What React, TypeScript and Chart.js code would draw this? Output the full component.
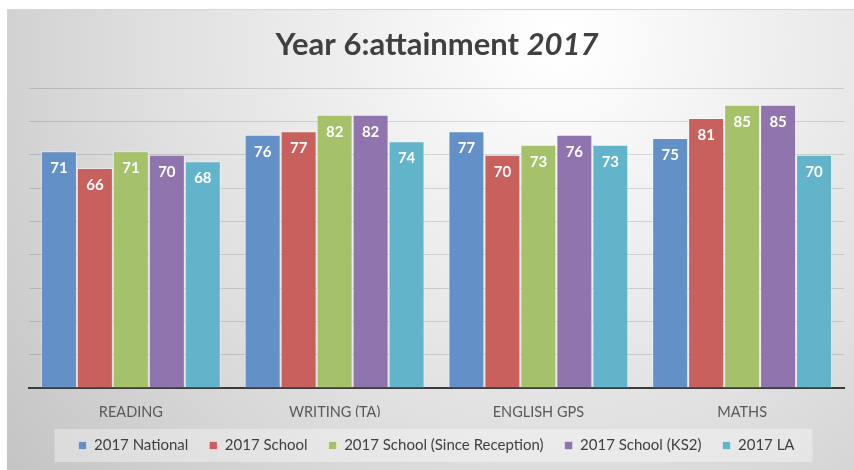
import React, { useEffect, useRef } from "react";
import { Chart, registerables } from "chart.js";

Chart.register(...registerables);

const categories = ["READING", "WRITING (TA)", "ENGLISH GPS", "MATHS"];
const seriesNames = [
  "2017 National",
  "2017 School",
  "2017 School (Since Reception)",
  "2017 School (KS2)",
  "2017 LA",
];
const national = [71, 76, 77, 75];
const school = [66, 77, 70, 81];
const sinceReception = [71, 82, 73, 85];
const ks2 = [70, 82, 76, 85];
const la = [68, 74, 73, 70];
const seriesColors = ["#6390c7", "#c8605d", "#a5c26a", "#8f74ad", "#62b4cb"];
const titleMain = "Year 6:attainment ";
const titleYear = "2017";
const yMin = 0;
const yMax = 90;
const yStep = 10;

const FONT = "Lato, 'Open Sans', 'Liberation Sans', sans-serif";

const backgroundPlugin = {
  id: "bgPlugin",
  beforeDraw(chart: any) {
    const ctx = chart.ctx;
    const w = chart.width;
    const h = chart.height;
    ctx.save();
    ctx.fillStyle = "#ffffff";
    ctx.fillRect(0, 0, w, h);
    const g = ctx.createRadialGradient(560, 40, 10, 560, 40, 720);
    g.addColorStop(0, "#ffffff");
    g.addColorStop(0.55, "#e0e0e0");
    g.addColorStop(1, "#c2c2c2");
    ctx.fillStyle = g;
    ctx.fillRect(7, 9, w - 7, h - 9);
    ctx.fillStyle = "#d6d6d6";
    ctx.fillRect(7, 9, w - 7, 1);
    // legend background
    const lg = chart.legend;
    if (lg && lg.legendHitBoxes && lg.legendHitBoxes.length) {
      const boxes = lg.legendHitBoxes;
      let minX = Infinity, maxX = -Infinity, cy = 0;
      boxes.forEach((b: any) => {
        minX = Math.min(minX, b.left);
        maxX = Math.max(maxX, b.left + b.width);
        cy = b.top + b.height / 2;
      });
      ctx.fillStyle = "rgba(255,255,255,0.35)";
      ctx.fillRect(minX - 24, cy - 16.5, maxX - minX + 42, 33);
    }
    // title
    ctx.fillStyle = "#404040";
    ctx.textBaseline = "middle";
    ctx.font = `bold 31px ${FONT}`;
    const w1 = ctx.measureText(titleMain).width;
    ctx.font = `italic bold 31px ${FONT}`;
    const w2 = ctx.measureText(titleYear).width;
    const startX = 437 - (w1 + w2) / 2;
    ctx.font = `bold 31px ${FONT}`;
    ctx.textAlign = "left";
    ctx.fillText(titleMain, startX, 45);
    ctx.font = `italic bold 31px ${FONT}`;
    ctx.fillText(titleYear, startX + w1, 45);
    ctx.restore();
  },
};

const valueLabelPlugin = {
  id: "valueLabels",
  afterDatasetsDraw(chart: any) {
    const ctx = chart.ctx;
    ctx.save();
    ctx.fillStyle = "#ffffff";
    ctx.font = `bold 15px ${FONT}`;
    ctx.textAlign = "center";
    ctx.textBaseline = "middle";
    chart.data.datasets.forEach((ds: any, i: number) => {
      const meta = chart.getDatasetMeta(i);
      meta.data.forEach((bar: any, j: number) => {
        ctx.fillText(String(ds.data[j]), bar.x, bar.y + 17);
      });
    });
    ctx.restore();
  },
};

const legendFitPlugin = {
  id: "legendFit",
  beforeInit(chart: any) {
    const lg = chart.legend;
    if (lg) {
      const orig = lg.fit;
      lg.fit = function () {
        orig.call(this);
        this.height = 53;
      };
    }
  },
};

export default function App() {
  const ref = useRef<HTMLCanvasElement>(null);
  useEffect(() => {
    if (!ref.current) return;
    const allSeries = [national, school, sinceReception, ks2, la];
    const chart = new Chart(ref.current, {
      type: "bar",
      data: {
        labels: categories,
        datasets: allSeries.map((d, i) => ({
          label: seriesNames[i],
          data: d,
          backgroundColor: seriesColors[i],
          borderColor: "rgba(255,255,255,0.45)",
          borderWidth: 1,
          barPercentage: 1,
          categoryPercentage: 0.883,
        })),
      },
      options: {
        responsive: false,
        animation: false,
        layout: { padding: { left: 29, right: 10, top: 88, bottom: 0 } },
        scales: {
          x: {
            grid: { display: false },
            border: { display: true, color: "#3a3a3a", width: 2 },
            ticks: {
              color: "#595959",
              font: { family: FONT, size: 14.5 },
              padding: 8,
            },
            afterFit(s: any) {
              s.height = 29;
            },
          },
          y: {
            min: yMin,
            max: yMax,
            ticks: { display: false, stepSize: yStep },
            border: { display: false },
            grid: { color: "rgba(0,0,0,0.13)", drawTicks: false },
            afterFit(s: any) {
              s.width = 0;
            },
          },
        },
        plugins: {
          legend: {
            position: "bottom",
            labels: {
              usePointStyle: true,
              pointStyle: "rect",
              boxWidth: 8,
              boxHeight: 8,
              padding: 21,
              color: "#404040",
              font: { family: FONT, size: 15 },
            },
          },
          title: { display: false },
          tooltip: { enabled: false },
        },
      },
      plugins: [backgroundPlugin, valueLabelPlugin, legendFitPlugin],
    } as any);
    return () => chart.destroy();
  }, []);
  return (
    <div style={{ position: "absolute", left: 0, top: 0, width: 854, height: 470 }}>
      <canvas ref={ref} width={854} height={470} style={{ display: "block" }} />
    </div>
  );
}
